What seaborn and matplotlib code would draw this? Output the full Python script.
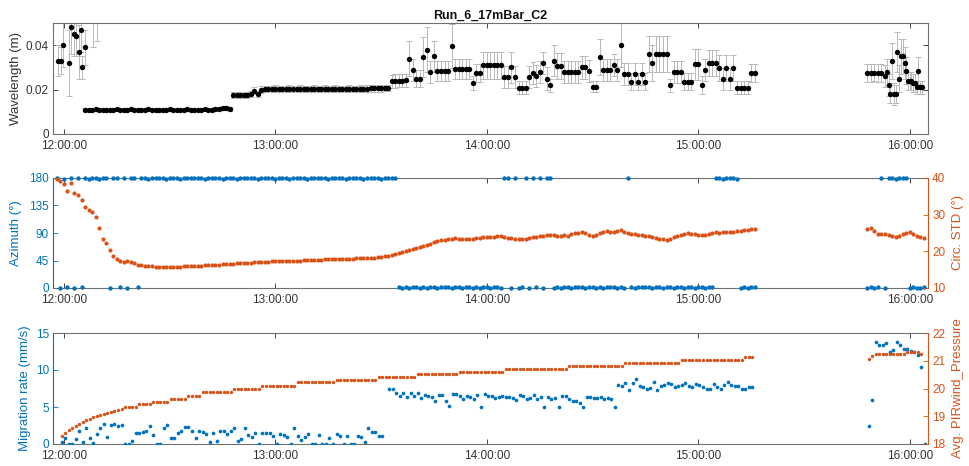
import numpy as np
import pandas as pd
import matplotlib
matplotlib.use("Agg")
import matplotlib.pyplot as plt
import seaborn as sns

sns.set_theme(style="white")
plt.rcParams['font.family'] = ['Liberation Sans', 'DejaVu Sans']

BLUE = '#0072BD'
ORANGE = '#D95319'
AXC = '#262626'
TXT = '#333333'

title = "Run_6_17mBar_C2"
xtick_pos = [0, 60, 120, 180, 240]          # minutes after 12:00:00
xtick_labels = ["12:00:00", "13:00:00", "14:00:00", "15:00:00", "16:00:00"]
XMIN, XMAX = -3.1, 245.2

# ---------------- Wavelength (top panel) ----------------
wl_early_t = [-1.7, -0.8, -0.3, 1.4, 2.0, 2.8, 3.4, 4.3, 4.8, 5.1, 6.0, 8.2, 9.4]
wl_early = [0.033, 0.033, 0.040, 0.032, 0.048, 0.045, 0.044, 0.037, 0.047, 0.030, 0.039, 0.052, 0.055]
err_early = [0.007, 0.006, 0.010, 0.015, 0.012, 0.010, 0.009, 0.012, 0.010, 0.005, 0.008, 0.013, 0.013]

wl_main_start = 6   # one sample per minute from 12:06
wl_main = [
    0.0110, 0.0108, 0.0110, 0.0111, 0.0109, 0.0110, 0.0110, 0.0108, 0.0110, 0.0111,
    0.0110, 0.0109, 0.0110, 0.0112, 0.0110, 0.0110, 0.0109, 0.0110, 0.0111, 0.0110,
    0.0110, 0.0108, 0.0110, 0.0110, 0.0111, 0.0110, 0.0109, 0.0110, 0.0110, 0.0111,
    0.0110, 0.0110, 0.0109, 0.0110, 0.0111, 0.0110, 0.0110, 0.0112, 0.0113, 0.0115,
    0.0118, 0.0114,
    0.0175, 0.0176, 0.0175, 0.0174, 0.0176, 0.0180, 0.0195, 0.0180,
    0.0200, 0.0202, 0.0203, 0.0203, 0.0204, 0.0203, 0.0202, 0.0203, 0.0204, 0.0203,
    0.0203, 0.0204, 0.0203, 0.0202, 0.0203, 0.0204, 0.0203, 0.0203, 0.0204, 0.0203,
    0.0203, 0.0204, 0.0203, 0.0202, 0.0203, 0.0204, 0.0203, 0.0203, 0.0204, 0.0203,
    0.0204, 0.0205, 0.0205, 0.0206, 0.0206, 0.0207, 0.0207,
    0.0238, 0.0239, 0.0240, 0.0240, 0.0241,
    0.0340, 0.0288, 0.0250, 0.0250, 0.0347, 0.0380, 0.0280, 0.0350, 0.0284, 0.0284,
    0.0284, 0.0284, 0.0396, 0.0294, 0.0294, 0.0294, 0.0294, 0.0294, 0.0230, 0.0275,
    0.0275, 0.0310, 0.0310, 0.0310, 0.0310, 0.0310, 0.0310, 0.0257, 0.0257, 0.0300,
    0.0257, 0.0209, 0.0209, 0.0209, 0.0257, 0.0275, 0.0260, 0.0280, 0.0320, 0.0250,
    0.0220, 0.0330, 0.0306, 0.0306, 0.0280, 0.0280, 0.0280, 0.0280, 0.0280, 0.0300,
    0.0300, 0.0284, 0.0213, 0.0213, 0.0348, 0.0288, 0.0288, 0.0288, 0.0310, 0.0288,
    0.0400, 0.0270, 0.0270, 0.0236, 0.0270, 0.0236, 0.0270, 0.0236, 0.0360, 0.0320,
    0.0360, 0.0360, 0.0360, 0.0360, 0.0220, 0.0280, 0.0280, 0.0280, 0.0236, 0.0236,
    0.0236, 0.0315, 0.0315, 0.0220, 0.0290, 0.0320, 0.0320, 0.0320, 0.0297, 0.0247,
    0.0297, 0.0247, 0.0297, 0.0209, 0.0209, 0.0209, 0.0209, 0.0274, 0.0274,
]
err_main = [
    0.0007, 0.0007, 0.0007, 0.0007, 0.0007, 0.0007, 0.0007, 0.0007, 0.0007, 0.0007,
    0.0007, 0.0007, 0.0007, 0.0007, 0.0007, 0.0007, 0.0007, 0.0007, 0.0007, 0.0007,
    0.0007, 0.0007, 0.0007, 0.0007, 0.0007, 0.0007, 0.0007, 0.0007, 0.0007, 0.0007,
    0.0007, 0.0007, 0.0007, 0.0007, 0.0007, 0.0007, 0.0007, 0.0009, 0.0009, 0.0009,
    0.0010, 0.0009,
    0.0012, 0.0012, 0.0012, 0.0012, 0.0012, 0.0013, 0.0015, 0.0013,
    0.0015, 0.0015, 0.0015, 0.0015, 0.0015, 0.0015, 0.0015, 0.0015, 0.0015, 0.0015,
    0.0015, 0.0015, 0.0015, 0.0015, 0.0015, 0.0015, 0.0015, 0.0015, 0.0015, 0.0015,
    0.0015, 0.0015, 0.0015, 0.0015, 0.0015, 0.0015, 0.0015, 0.0015, 0.0015, 0.0015,
    0.0015, 0.0015, 0.0015, 0.0015, 0.0015, 0.0015, 0.0015,
    0.0030, 0.0030, 0.0030, 0.0030, 0.0030,
    0.0080, 0.0050, 0.0040, 0.0040, 0.0090, 0.0100, 0.0050, 0.0070, 0.0045, 0.0045,
    0.0045, 0.0045, 0.0100, 0.0045, 0.0045, 0.0045, 0.0045, 0.0045, 0.0030, 0.0040,
    0.0040, 0.0060, 0.0060, 0.0060, 0.0060, 0.0060, 0.0060, 0.0050, 0.0050, 0.0070,
    0.0050, 0.0030, 0.0030, 0.0030, 0.0050, 0.0050, 0.0050, 0.0050, 0.0050, 0.0050,
    0.0030, 0.0070, 0.0060, 0.0060, 0.0050, 0.0050, 0.0050, 0.0050, 0.0050, 0.0050,
    0.0050, 0.0050, 0.0025, 0.0025, 0.0080, 0.0050, 0.0050, 0.0050, 0.0050, 0.0050,
    0.0100, 0.0050, 0.0050, 0.0040, 0.0050, 0.0040, 0.0050, 0.0040, 0.0080, 0.0080,
    0.0080, 0.0080, 0.0080, 0.0080, 0.0030, 0.0050, 0.0050, 0.0050, 0.0040, 0.0040,
    0.0040, 0.0070, 0.0070, 0.0040, 0.0050, 0.0060, 0.0060, 0.0060, 0.0060, 0.0050,
    0.0060, 0.0050, 0.0060, 0.0030, 0.0030, 0.0030, 0.0030, 0.0040, 0.0040,
]
wl_late_t = [228, 229, 230, 231, 232, 233, 233.6, 234, 234.5, 235, 235.5, 236, 236.5, 237,
             237.5, 238, 238.6, 239, 239.5, 240, 240.5, 241, 241.5, 242, 242.5, 243, 243.5]
wl_late = [0.0276, 0.0276, 0.0277, 0.0276, 0.0275, 0.0260, 0.0280, 0.0220, 0.0180, 0.0330,
           0.0180, 0.0180, 0.0370, 0.0250, 0.0350, 0.0350, 0.0320, 0.0285, 0.0240, 0.0240,
           0.0240, 0.0230, 0.0230, 0.0210, 0.0285, 0.0210, 0.0210]
err_late = [0.0040, 0.0040, 0.0040, 0.0040, 0.0040, 0.0050, 0.0060, 0.0050, 0.0040, 0.0080,
            0.0050, 0.0040, 0.0090, 0.0060, 0.0080, 0.0080, 0.0070, 0.0060, 0.0040, 0.0040,
            0.0040, 0.0040, 0.0040, 0.0030, 0.0060, 0.0030, 0.0030]

# ---------------- Azimuth / Circ. STD (middle panel) ----------------
mid_start1, mid_start2 = -2, 228     # one sample per minute
azimuth1 = [
    180, 0, 179, 1, 180, 0, 180, 2, 180, 179,
    180, 180, 179, 180, 180, 0, 180, 180, 1, 180,
    0, 180, 180, 1, 180, 180, 179, 180, 180, 180,
    180, 179, 180, 180, 180, 179, 180, 180, 180, 180,
    180, 180, 179, 180, 180, 180, 180, 179, 180, 180,
    180, 179, 180, 180, 180, 180, 180, 179, 180, 180,
    180, 180, 179, 180, 180, 180, 179, 180, 180, 180,
    180, 179, 180, 180, 180, 180, 180, 179, 180, 180,
    180, 180, 179, 180, 180, 180, 180, 179, 180, 180,
    180, 180, 179, 180, 180, 180, 180, 1, 0, 1,
    0, 1, 2, 0, 1, 0, 1, 1, 0, 1,
    2, 1, 0, 1, 1, 0, 2, 1, 0, 1,
    0, 1, 1, 0, 1, 1, 0, 180, 180, 0,
    180, 0, 1, 180, 0, 180, 1, 180, 0, 180,
    180, 0, 1, 0, 1, 1, 0, 1, 2, 1,
    0, 1, 1, 0, 1, 0, 1, 2, 1, 0,
    1, 0, 180, 1, 0, 1, 1, 2, 1, 0,
    1, 1, 0, 1, 1, 0, 1, 1, 0, 1,
    1, 0, 1, 1, 0, 1, 1, 180, 180, 179,
    180, 180, 180, 179, 0, 1, 0, 1, 1,
]
circ1 = [
    39.8, 39.2, 38.4, 36.5, 38.6, 36.0, 35.3, 34.0, 32.0, 31.4,
    30.8, 29.5, 26.5, 23.5, 22.2, 20.4, 18.8, 17.8, 17.3, 17.2,
    17.3, 17.1, 16.8, 16.4, 16.2, 16.0, 15.9, 15.9, 15.8, 15.7,
    15.8, 15.7, 15.7, 15.7, 15.8, 15.8, 15.9, 15.9, 16.0, 16.0,
    16.1, 16.1, 16.2, 16.3, 16.3, 16.4, 16.4, 16.5, 16.5, 16.6,
    16.6, 16.7, 16.7, 16.8, 16.9, 16.9, 17.0, 17.0, 17.1, 17.2,
    17.2, 17.3, 17.3, 17.3, 17.4, 17.4, 17.4, 17.5, 17.5, 17.5,
    17.6, 17.6, 17.6, 17.7, 17.7, 17.7, 17.8, 17.9, 17.9, 17.9,
    18.0, 18.0, 18.0, 18.0, 18.0, 18.1, 18.1, 18.2, 18.2, 18.3,
    18.3, 18.4, 18.5, 18.6, 18.8, 19.0, 19.3, 19.6, 19.9, 20.2,
    20.4, 20.6, 21.0, 21.3, 21.5, 21.7, 22.0, 22.5, 22.8, 23.0,
    23.1, 23.4, 23.5, 23.6, 23.5, 23.4, 23.3, 23.3, 23.5, 23.6,
    23.6, 23.8, 23.8, 23.9, 24.0, 24.2, 24.1, 23.9, 23.7, 23.6,
    23.5, 23.4, 23.3, 23.3, 23.6, 23.8, 24.0, 24.1, 24.3, 24.4,
    24.5, 24.5, 24.3, 24.2, 24.5, 24.3, 24.6, 24.9, 25.1, 25.2,
    24.9, 24.5, 24.3, 24.5, 25.0, 25.4, 25.5, 25.3, 25.4, 25.6,
    25.7, 25.4, 25.0, 24.8, 24.7, 24.5, 24.4, 24.3, 24.1, 23.8,
    23.6, 23.4, 23.3, 23.2, 23.4, 23.8, 24.2, 24.5, 24.8, 25.0,
    24.8, 24.6, 24.5, 24.5, 24.5, 24.7, 24.9, 25.2, 24.9, 25.2,
    25.4, 25.3, 25.4, 25.5, 25.6, 25.7, 25.8, 26.1, 26.2,
]
azimuth2 = [0, 1, 0, 1, 180, 0, 180, 180, 179, 180, 180, 180, 0, 1, 0, 0, 1]
circ2 = [26.2, 26.4, 25.6, 24.8, 24.6, 24.7, 24.5, 24.3, 23.8, 24.3,
         24.6, 25.0, 25.3, 24.7, 24.3, 24.0, 23.7]

# ---------------- Migration rate / pressure (bottom panel) ----------------
bot_start1, bot_start2 = -0.65, 228.35   # one sample per minute
migration1 = [
    0.3, 0.8, 0, 0, 0.7, 1.7, 0.3, 2.2, 0.8, 0.1,
    1.35, 2.1, 2.7, 1.0, 2.56, 2.7, 2.4, 2.6, 0, 0,
    0.45, 1.5, 1.5, 1.6, 1.8, 2.5, 1.15, 0, 0, 2.1,
    2.6, 0.8, 0.8, 1.5, 1.8, 2.3, 2.3, 1.8, 0.8, 1.8,
    1.6, 1.3, 0.3, 1.5, 0.45, 1.8, 1.8, 1.3, 1.8, 2.1,
    0.45, 0.7, 2.1, 1.15, 1.0, 1.5, 0, 1.5, 1.45, 1.45,
    1.1, 0, 1.35, 1.2, 1.0, 0, 2.1, 1.1, 0.6, 1.0,
    1.35, 0, 0, 1.2, 0, 0, 0.8, 0, 1.35, 1.12,
    0, 1.12, 0, 0, 1.12, 0.99, 0.31, 2.11, 1.57, 1.66,
    1.12, 1.12, np.nan, 7.37, 7.37, 6.83, 6.51, 6.83, 6.38, 6.83,
    6.51, 6.83, 6.15, 6.60, 6.47, 6.29, 5.84, 6.60, 6.60, 5.84,
    5.17, 6.69, 6.69, 6.51, 6.06, 6.47, 6.29, 6.06, 6.60, 5.03,
    6.69, 6.51, 6.47, 6.15, 6.38, 6.47, 6.38, 6.38, 6.15, 5.93,
    6.60, 6.47, 6.02, 6.15, 6.60, 6.02, 6.29, 5.03, 6.38, 6.06,
    6.24, 5.03, 6.51, 6.51, 6.02, 5.84, 5.84, 5.57, 5.03, 6.29,
    6.29, 6.15, 6.15, 6.38, 6.02, 6.15, 6.02, 5.03, 7.95, 7.82,
    8.27, 7.28, 8.18, 8.76, 7.82, 7.69, 7.41, 7.60, 8.40, 7.28,
    7.90, 7.95, 8.18, 8.09, 7.73, 7.82, 7.95, 8.27, 7.82, 7.64,
    8.09, 7.95, 7.64, 7.50, 7.50, 8.09, 7.73, 7.37, 7.95, 8.40,
    7.95, 7.82, 7.82, 7.37, 7.37, 7.64, 7.73,
]
pressure1 = [
    18.29, 18.38, 18.50, 18.59, 18.66, 18.72, 18.79, 18.86, 18.91, 18.96,
    19.01, 19.04, 19.08, 19.13, 19.14, 19.20, 19.22, 19.25, 19.32, 19.34,
    19.34, 19.34, 19.44, 19.44, 19.44, 19.44, 19.52, 19.52, 19.52, 19.52,
    19.52, 19.61, 19.61, 19.61, 19.61, 19.61, 19.74, 19.74, 19.74, 19.74,
    19.87, 19.87, 19.87, 19.87, 19.87, 19.87, 19.87, 19.87, 19.87, 19.97,
    19.97, 19.97, 19.97, 19.97, 19.97, 19.97, 19.97, 20.10, 20.10, 20.10,
    20.10, 20.10, 20.10, 20.10, 20.10, 20.10, 20.10, 20.22, 20.22, 20.22,
    20.22, 20.22, 20.22, 20.22, 20.22, 20.22, 20.22, 20.22, 20.30, 20.30,
    20.30, 20.30, 20.30, 20.30, 20.30, 20.30, 20.30, 20.30, 20.30, 20.30,
    20.40, 20.40, 20.40, 20.40, 20.40, 20.40, 20.40, 20.40, 20.40, 20.40,
    20.40, 20.51, 20.51, 20.51, 20.51, 20.51, 20.51, 20.51, 20.51, 20.51,
    20.51, 20.51, 20.51, 20.60, 20.60, 20.60, 20.60, 20.60, 20.60, 20.60,
    20.60, 20.60, 20.60, 20.60, 20.60, 20.60, 20.69, 20.69, 20.69, 20.69,
    20.69, 20.69, 20.69, 20.69, 20.69, 20.69, 20.69, 20.69, 20.69, 20.69,
    20.69, 20.69, 20.69, 20.69, 20.81, 20.81, 20.81, 20.81, 20.81, 20.81,
    20.81, 20.81, 20.81, 20.81, 20.81, 20.81, 20.81, 20.81, 20.81, 20.81,
    20.92, 20.92, 20.92, 20.92, 20.92, 20.92, 20.92, 20.92, 20.92, 20.92,
    20.92, 20.92, 20.92, 20.92, 20.92, 20.92, 21.02, 21.02, 21.02, 21.02,
    21.02, 21.02, 21.02, 21.02, 21.02, 21.02, 21.02, 21.02, 21.02, 21.02,
    21.02, 21.02, 21.02, 21.02, 21.12, 21.12, 21.12,
]
migration2 = [2.43, 5.93, 13.79, 13.43, 13.43, 13.60, 12.44, 12.76, 13.79, 13.43,
              12.90, 12.90, 12.58, 12.44, 12.00, 10.42, 0]
pressure2 = [21.08, 21.17, 21.24, 21.24, 21.24, 21.24, 21.24, 21.24, 21.24, 21.24,
             21.24, 21.33, 21.33, 21.33, 21.33, 21.24, np.nan]

# ---------------- data frames ----------------
df_wl = pd.concat([
    pd.DataFrame({"t": wl_early_t, "wl": wl_early, "err": err_early}),
    pd.DataFrame({"t": np.arange(len(wl_main)) + wl_main_start, "wl": wl_main, "err": err_main}),
    pd.DataFrame({"t": wl_late_t, "wl": wl_late, "err": err_late}),
], ignore_index=True)

df_mid = pd.concat([
    pd.DataFrame({"t": np.arange(len(circ1)) + mid_start1, "az": azimuth1, "circ": circ1}),
    pd.DataFrame({"t": np.arange(len(circ2)) + mid_start2, "az": azimuth2, "circ": circ2}),
], ignore_index=True)

df_bot = pd.concat([
    pd.DataFrame({"t": np.arange(len(pressure1)) + bot_start1, "mig": migration1, "p": pressure1}),
    pd.DataFrame({"t": np.arange(len(pressure2)) + bot_start2, "mig": migration2, "p": pressure2}),
], ignore_index=True)

# ---------------- figure ----------------
fig = plt.figure(figsize=(9.7, 4.66), dpi=100)
L, W = 53 / 970, 875 / 970
ax1 = fig.add_axes([L, 1 - 134 / 466, W, 111 / 466])
ax2 = fig.add_axes([L, 1 - 288 / 466, W, 110 / 466])
ax3 = fig.add_axes([L, 1 - 444 / 466, W, 111 / 466])

TICK_FS, LAB_FS = 8.5, 9.5


def style_x(ax):
    ax.set_xlim(XMIN, XMAX)
    ax.set_xticks(xtick_pos, xtick_labels)
    ax.tick_params(axis='x', direction='in', length=3.6, width=0.6, top=True, bottom=True,
                   labelsize=TICK_FS, labelcolor=TXT, color=AXC, pad=4.6)
    ax.set_xlabel("")
    for s in ['top', 'bottom']:
        ax.spines[s].set_color('#707070')
        ax.spines[s].set_linewidth(0.8)


# top panel
ax1.errorbar(df_wl["t"], df_wl["wl"], yerr=df_wl["err"], fmt='none', ecolor='#b9b9b9',
             elinewidth=0.7, capsize=2.3, capthick=0.7, zorder=2)
sns.scatterplot(data=df_wl, x="t", y="wl", ax=ax1, color='black', s=15, linewidth=0,
                legend=False, zorder=3)
ax1.set_ylim(0, 0.05)
ax1.set_yticks([0, 0.02, 0.04], ["0", "0.02", "0.04"])
ax1.tick_params(axis='y', direction='in', length=3.6, width=0.6, left=True, right=True,
                labelsize=TICK_FS, labelcolor=TXT, color=AXC, pad=3)
for s in ['left', 'right']:
    ax1.spines[s].set_color('#707070')
    ax1.spines[s].set_linewidth(0.8)
ax1.set_ylabel("Wavelength (m)", fontsize=LAB_FS, color=TXT, labelpad=2.5)
ax1.set_title(title, fontsize=9, fontweight='bold', color='#111111', pad=3)
style_x(ax1)

# middle panel
ax2r = ax2.twinx()
sns.scatterplot(data=df_mid, x="t", y="az", ax=ax2, color=BLUE, s=10, linewidth=0,
                legend=False, clip_on=False, zorder=3)
sns.scatterplot(data=df_mid, x="t", y="circ", ax=ax2r, color=ORANGE, s=9, linewidth=0,
                legend=False, zorder=3)
ax2.set_ylim(0, 180)
ax2.set_yticks([0, 45, 90, 135, 180])
ax2r.set_ylim(10, 40)
ax2r.set_yticks([10, 20, 30, 40])
ax2.tick_params(axis='y', direction='in', length=3.6, width=0.6, labelsize=TICK_FS,
                colors=BLUE, pad=3)
ax2r.tick_params(axis='y', direction='in', length=3.6, width=0.6, labelsize=TICK_FS,
                 colors=ORANGE, pad=3)
ax2.set_ylabel("Azimuth (°)", fontsize=LAB_FS, color=BLUE, labelpad=4.8)
ax2r.set_ylabel("Circ. STD (°)", fontsize=LAB_FS, color=ORANGE, labelpad=5)
style_x(ax2)
ax2r.set_xlim(XMIN, XMAX)

# bottom panel
ax3r = ax3.twinx()
sns.scatterplot(data=df_bot, x="t", y="mig", ax=ax3, color=BLUE, s=7, linewidth=0,
                legend=False, zorder=3)
sns.scatterplot(data=df_bot, x="t", y="p", ax=ax3r, color=ORANGE, s=6, linewidth=0,
                legend=False, zorder=3)
ax3.set_ylim(0, 15)
ax3.set_yticks([0, 5, 10, 15])
ax3r.set_ylim(18, 22)
ax3r.set_yticks([18, 19, 20, 21, 22])
ax3.tick_params(axis='y', direction='in', length=3.6, width=0.6, labelsize=TICK_FS,
                colors=BLUE, pad=3)
ax3r.tick_params(axis='y', direction='in', length=3.6, width=0.6, labelsize=TICK_FS,
                 colors=ORANGE, pad=3)
ax3.set_ylabel("Migration rate (mm/s)", fontsize=LAB_FS, color=BLUE, labelpad=3.6)
ax3r.set_ylabel("Avg. PIRwind_Pressure", fontsize=LAB_FS, color=ORANGE, labelpad=5)
style_x(ax3)
ax3r.set_xlim(XMIN, XMAX)

for a, ar in [(ax2, ax2r), (ax3, ax3r)]:
    a.spines['left'].set_color(BLUE)
    a.spines['left'].set_linewidth(0.8)
    a.spines['right'].set_visible(False)
    for s in ['left', 'top', 'bottom']:
        ar.spines[s].set_visible(False)
    ar.spines['right'].set_color(ORANGE)
    ar.spines['right'].set_linewidth(0.8)
    ar.set_xlabel("")

fig.savefig("out.png", dpi=100, facecolor='white')
